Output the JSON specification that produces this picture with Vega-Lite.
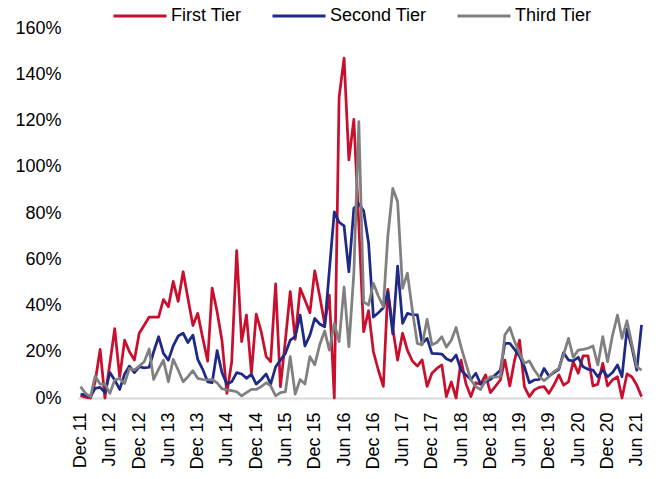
{
  "$schema": "https://vega.github.io/schema/vega-lite/v6.json",
  "width": 565,
  "height": 370,
  "autosize": "none",
  "padding": {"left": 78, "top": 28, "right": 21, "bottom": 81},
  "background": "white",
  "config": {
    "view": {"stroke": null},
    "font": "Liberation Sans",
    "axis": {"labelFont": "Liberation Sans", "labelFontSize": 18, "labelColor": "#000000", "grid": false, "ticks": false}
  },
  "data": {
    "values": [
      {"date":"2011-12-01","First Tier":1,"Second Tier":1.7,"Third Tier":4.9},
      {"date":"2012-01-01","First Tier":0.3,"Second Tier":1.3,"Third Tier":2},
      {"date":"2012-02-01","First Tier":0,"Second Tier":0.6,"Third Tier":0.6},
      {"date":"2012-03-01","First Tier":7,"Second Tier":4.2,"Third Tier":9.5},
      {"date":"2012-04-01","First Tier":21,"Second Tier":4.6,"Third Tier":6},
      {"date":"2012-05-01","First Tier":0,"Second Tier":2.4,"Third Tier":6},
      {"date":"2012-06-01","First Tier":15,"Second Tier":11,"Third Tier":2},
      {"date":"2012-07-01","First Tier":30,"Second Tier":7.8,"Third Tier":7.8},
      {"date":"2012-08-01","First Tier":9,"Second Tier":3.7,"Third Tier":8.4},
      {"date":"2012-09-01","First Tier":25,"Second Tier":10.4,"Third Tier":6.3},
      {"date":"2012-10-01","First Tier":20,"Second Tier":13.8,"Third Tier":12.8},
      {"date":"2012-11-01","First Tier":16.4,"Second Tier":11,"Third Tier":12.1},
      {"date":"2012-12-01","First Tier":28,"Second Tier":13.5,"Third Tier":13.8},
      {"date":"2013-01-01","First Tier":31.5,"Second Tier":13,"Third Tier":15.7},
      {"date":"2013-02-01","First Tier":35,"Second Tier":13.3,"Third Tier":21.2},
      {"date":"2013-03-01","First Tier":35,"Second Tier":20,"Third Tier":8},
      {"date":"2013-04-01","First Tier":35,"Second Tier":26.5,"Third Tier":12.5},
      {"date":"2013-05-01","First Tier":42.6,"Second Tier":19.3,"Third Tier":16.4},
      {"date":"2013-06-01","First Tier":39.5,"Second Tier":16.4,"Third Tier":7},
      {"date":"2013-07-01","First Tier":50.4,"Second Tier":22.5,"Third Tier":16.7},
      {"date":"2013-08-01","First Tier":41.8,"Second Tier":26.8,"Third Tier":12.1},
      {"date":"2013-09-01","First Tier":54.6,"Second Tier":28,"Third Tier":7},
      {"date":"2013-10-01","First Tier":43,"Second Tier":24,"Third Tier":9.2},
      {"date":"2013-11-01","First Tier":31.3,"Second Tier":27.2,"Third Tier":11.8},
      {"date":"2013-12-01","First Tier":36.6,"Second Tier":16.7,"Third Tier":8.5},
      {"date":"2014-01-01","First Tier":26,"Second Tier":12.4,"Third Tier":8},
      {"date":"2014-02-01","First Tier":15.9,"Second Tier":7,"Third Tier":7.8},
      {"date":"2014-03-01","First Tier":47.5,"Second Tier":6.6,"Third Tier":8},
      {"date":"2014-04-01","First Tier":37.3,"Second Tier":20.5,"Third Tier":6.5},
      {"date":"2014-05-01","First Tier":25,"Second Tier":11,"Third Tier":4},
      {"date":"2014-06-01","First Tier":2,"Second Tier":6,"Third Tier":3.5},
      {"date":"2014-07-01","First Tier":15.7,"Second Tier":7,"Third Tier":3.2},
      {"date":"2014-08-01","First Tier":63.7,"Second Tier":11,"Third Tier":2.7},
      {"date":"2014-09-01","First Tier":24.4,"Second Tier":10.4,"Third Tier":0.9},
      {"date":"2014-10-01","First Tier":35.9,"Second Tier":8.5,"Third Tier":2.3},
      {"date":"2014-11-01","First Tier":10.7,"Second Tier":10.2,"Third Tier":3.7},
      {"date":"2014-12-01","First Tier":36.3,"Second Tier":6,"Third Tier":3.7},
      {"date":"2015-01-01","First Tier":28.7,"Second Tier":8,"Third Tier":4.9},
      {"date":"2015-02-01","First Tier":17.9,"Second Tier":10.4,"Third Tier":6.6},
      {"date":"2015-03-01","First Tier":15.7,"Second Tier":6,"Third Tier":5.2},
      {"date":"2015-04-01","First Tier":49.3,"Second Tier":13.5,"Third Tier":0.9},
      {"date":"2015-05-01","First Tier":4.9,"Second Tier":16.4,"Third Tier":2.3},
      {"date":"2015-06-01","First Tier":25,"Second Tier":19.3,"Third Tier":2.7},
      {"date":"2015-07-01","First Tier":46,"Second Tier":25,"Third Tier":17.9},
      {"date":"2015-08-01","First Tier":25.4,"Second Tier":26.5,"Third Tier":1.7},
      {"date":"2015-09-01","First Tier":47.4,"Second Tier":35.9,"Third Tier":8},
      {"date":"2015-10-01","First Tier":42.4,"Second Tier":22.5,"Third Tier":6},
      {"date":"2015-11-01","First Tier":36.9,"Second Tier":27.2,"Third Tier":17.9},
      {"date":"2015-12-01","First Tier":55,"Second Tier":34.4,"Third Tier":14.3},
      {"date":"2016-01-01","First Tier":44,"Second Tier":32,"Third Tier":23},
      {"date":"2016-02-01","First Tier":32,"Second Tier":30.8,"Third Tier":29},
      {"date":"2016-03-01","First Tier":44.5,"Second Tier":55,"Third Tier":20.7},
      {"date":"2016-04-01","First Tier":0,"Second Tier":80.5,"Third Tier":32.3},
      {"date":"2016-05-01","First Tier":130,"Second Tier":76,"Third Tier":24.4},
      {"date":"2016-06-01","First Tier":147,"Second Tier":74.4,"Third Tier":48},
      {"date":"2016-07-01","First Tier":103,"Second Tier":54.6,"Third Tier":22.2},
      {"date":"2016-08-01","First Tier":120.5,"Second Tier":82,"Third Tier":54},
      {"date":"2016-09-01","First Tier":75,"Second Tier":84,"Third Tier":119.5},
      {"date":"2016-10-01","First Tier":28.7,"Second Tier":81,"Third Tier":41.6},
      {"date":"2016-11-01","First Tier":37.8,"Second Tier":66.9,"Third Tier":40.2},
      {"date":"2016-12-01","First Tier":20,"Second Tier":35,"Third Tier":49.6},
      {"date":"2017-01-01","First Tier":12,"Second Tier":36.9,"Third Tier":44},
      {"date":"2017-02-01","First Tier":5,"Second Tier":39,"Third Tier":39.5},
      {"date":"2017-03-01","First Tier":47,"Second Tier":46,"Third Tier":70},
      {"date":"2017-04-01","First Tier":30,"Second Tier":27.7,"Third Tier":90.6},
      {"date":"2017-05-01","First Tier":16.4,"Second Tier":57,"Third Tier":84.9},
      {"date":"2017-06-01","First Tier":28,"Second Tier":32.3,"Third Tier":47.4},
      {"date":"2017-07-01","First Tier":20.7,"Second Tier":36.6,"Third Tier":54},
      {"date":"2017-08-01","First Tier":16,"Second Tier":36,"Third Tier":38},
      {"date":"2017-09-01","First Tier":13.8,"Second Tier":35.9,"Third Tier":23.6},
      {"date":"2017-10-01","First Tier":16.5,"Second Tier":23.6,"Third Tier":23},
      {"date":"2017-11-01","First Tier":5,"Second Tier":25.8,"Third Tier":34},
      {"date":"2017-12-01","First Tier":10.7,"Second Tier":19.3,"Third Tier":23},
      {"date":"2018-01-01","First Tier":12.8,"Second Tier":19.2,"Third Tier":24},
      {"date":"2018-02-01","First Tier":14.3,"Second Tier":19,"Third Tier":26.5},
      {"date":"2018-03-01","First Tier":0.6,"Second Tier":17,"Third Tier":22},
      {"date":"2018-04-01","First Tier":7,"Second Tier":16,"Third Tier":25},
      {"date":"2018-05-01","First Tier":0,"Second Tier":18.6,"Third Tier":30.5},
      {"date":"2018-06-01","First Tier":16.4,"Second Tier":12,"Third Tier":22},
      {"date":"2018-07-01","First Tier":6.3,"Second Tier":10,"Third Tier":15},
      {"date":"2018-08-01","First Tier":0.6,"Second Tier":8,"Third Tier":7.8},
      {"date":"2018-09-01","First Tier":6.6,"Second Tier":10.7,"Third Tier":4.9},
      {"date":"2018-10-01","First Tier":6,"Second Tier":6,"Third Tier":3.7},
      {"date":"2018-11-01","First Tier":10,"Second Tier":7,"Third Tier":7.5},
      {"date":"2018-12-01","First Tier":2.3,"Second Tier":8,"Third Tier":9.2},
      {"date":"2019-01-01","First Tier":5,"Second Tier":10,"Third Tier":9},
      {"date":"2019-02-01","First Tier":7.8,"Second Tier":12,"Third Tier":9.2},
      {"date":"2019-03-01","First Tier":16.4,"Second Tier":23.6,"Third Tier":27.2},
      {"date":"2019-04-01","First Tier":5.2,"Second Tier":23.6,"Third Tier":30.5},
      {"date":"2019-05-01","First Tier":16.4,"Second Tier":21,"Third Tier":24.4},
      {"date":"2019-06-01","First Tier":25,"Second Tier":18,"Third Tier":19.3},
      {"date":"2019-07-01","First Tier":4.9,"Second Tier":13.5,"Third Tier":15},
      {"date":"2019-08-01","First Tier":0.6,"Second Tier":6.6,"Third Tier":16},
      {"date":"2019-09-01","First Tier":3.5,"Second Tier":7.8,"Third Tier":12.1},
      {"date":"2019-10-01","First Tier":4.6,"Second Tier":8,"Third Tier":9.2},
      {"date":"2019-11-01","First Tier":4.9,"Second Tier":12.8,"Third Tier":7.5},
      {"date":"2019-12-01","First Tier":2,"Second Tier":9.5,"Third Tier":9.2},
      {"date":"2020-01-01","First Tier":5.6,"Second Tier":11,"Third Tier":11.4},
      {"date":"2020-02-01","First Tier":10,"Second Tier":12.4,"Third Tier":12.8},
      {"date":"2020-03-01","First Tier":5.6,"Second Tier":19.6,"Third Tier":18.6},
      {"date":"2020-04-01","First Tier":7,"Second Tier":16.4,"Third Tier":25.8},
      {"date":"2020-05-01","First Tier":15.7,"Second Tier":16.1,"Third Tier":17.6},
      {"date":"2020-06-01","First Tier":10.7,"Second Tier":17.6,"Third Tier":20.7},
      {"date":"2020-07-01","First Tier":18.2,"Second Tier":13.5,"Third Tier":21},
      {"date":"2020-08-01","First Tier":18.2,"Second Tier":12.4,"Third Tier":21.5},
      {"date":"2020-09-01","First Tier":5.2,"Second Tier":12.1,"Third Tier":22.5},
      {"date":"2020-10-01","First Tier":6,"Second Tier":9.2,"Third Tier":14.3},
      {"date":"2020-11-01","First Tier":15,"Second Tier":12.1,"Third Tier":26.5},
      {"date":"2020-12-01","First Tier":5.2,"Second Tier":9.2,"Third Tier":15.7},
      {"date":"2021-01-01","First Tier":7.8,"Second Tier":11,"Third Tier":27.2},
      {"date":"2021-02-01","First Tier":9.2,"Second Tier":14.3,"Third Tier":35.9},
      {"date":"2021-03-01","First Tier":0,"Second Tier":9.2,"Third Tier":25.8},
      {"date":"2021-04-01","First Tier":10.4,"Second Tier":29.7,"Third Tier":33.4},
      {"date":"2021-05-01","First Tier":9.2,"Second Tier":22,"Third Tier":23.6},
      {"date":"2021-06-01","First Tier":5.6,"Second Tier":12,"Third Tier":13.5},
      {"date":"2021-07-01","First Tier":0.6,"Second Tier":31.6,"Third Tier":12.1}
    ]
  },
  "transform": [
    {"fold": ["First Tier", "Second Tier", "Third Tier"], "as": ["series", "value"]}
  ],
  "mark": {"type": "line", "strokeWidth": 2.75, "strokeJoin": "round", "clip": false},
  "encoding": {
    "x": {
      "field": "date",
      "type": "temporal",
      "scale": {
        "type": "utc",
        "domain": [
          {"year": 2011, "month": 11, "date": 15, "utc": true},
          {"year": 2021, "month": 7, "date": 10, "utc": true}
        ]
      },
      "axis": {
        "title": null,
        "labelExpr": "utcFormat(datum.value, '%b %y')",
        "labelAngle": 270,
        "labelPadding": 14,
        "labelOverlap": false,
        "labelBound": false,
        "labelFlush": false,
        "domainColor": "#d9d9d9",
        "domainWidth": 2,
        "values": [
          {"year": 2011, "month": 12, "date": 1, "utc": true},
          {"year": 2012, "month": 6, "date": 1, "utc": true},
          {"year": 2012, "month": 12, "date": 1, "utc": true},
          {"year": 2013, "month": 6, "date": 1, "utc": true},
          {"year": 2013, "month": 12, "date": 1, "utc": true},
          {"year": 2014, "month": 6, "date": 1, "utc": true},
          {"year": 2014, "month": 12, "date": 1, "utc": true},
          {"year": 2015, "month": 6, "date": 1, "utc": true},
          {"year": 2015, "month": 12, "date": 1, "utc": true},
          {"year": 2016, "month": 6, "date": 1, "utc": true},
          {"year": 2016, "month": 12, "date": 1, "utc": true},
          {"year": 2017, "month": 6, "date": 1, "utc": true},
          {"year": 2017, "month": 12, "date": 1, "utc": true},
          {"year": 2018, "month": 6, "date": 1, "utc": true},
          {"year": 2018, "month": 12, "date": 1, "utc": true},
          {"year": 2019, "month": 6, "date": 1, "utc": true},
          {"year": 2019, "month": 12, "date": 1, "utc": true},
          {"year": 2020, "month": 6, "date": 1, "utc": true},
          {"year": 2020, "month": 12, "date": 1, "utc": true},
          {"year": 2021, "month": 6, "date": 1, "utc": true}
        ]
      }
    },
    "y": {
      "field": "value",
      "type": "quantitative",
      "scale": {"domain": [0, 160], "nice": false, "zero": true},
      "axis": {
        "title": null,
        "values": [0, 20, 40, 60, 80, 100, 120, 140, 160],
        "labelExpr": "datum.value + '%'",
        "labelPadding": 17,
        "domain": false
      }
    },
    "color": {
      "field": "series",
      "type": "nominal",
      "scale": {
        "domain": ["First Tier", "Second Tier", "Third Tier"],
        "range": ["#C8102E", "#1F2A87", "#808080"]
      },
      "legend": {
        "title": null,
        "orient": "none",
        "direction": "horizontal",
        "legendX": 34,
        "legendY": -40,
        "padding": 0,
        "symbolType": "stroke",
        "symbolSize": 2809,
        "symbolStrokeWidth": 3,
        "labelFont": "Liberation Sans",
        "labelFontSize": 18,
        "labelColor": "#000000",
        "labelOffset": 3,
        "columnPadding": 24
      }
    }
  }
}
